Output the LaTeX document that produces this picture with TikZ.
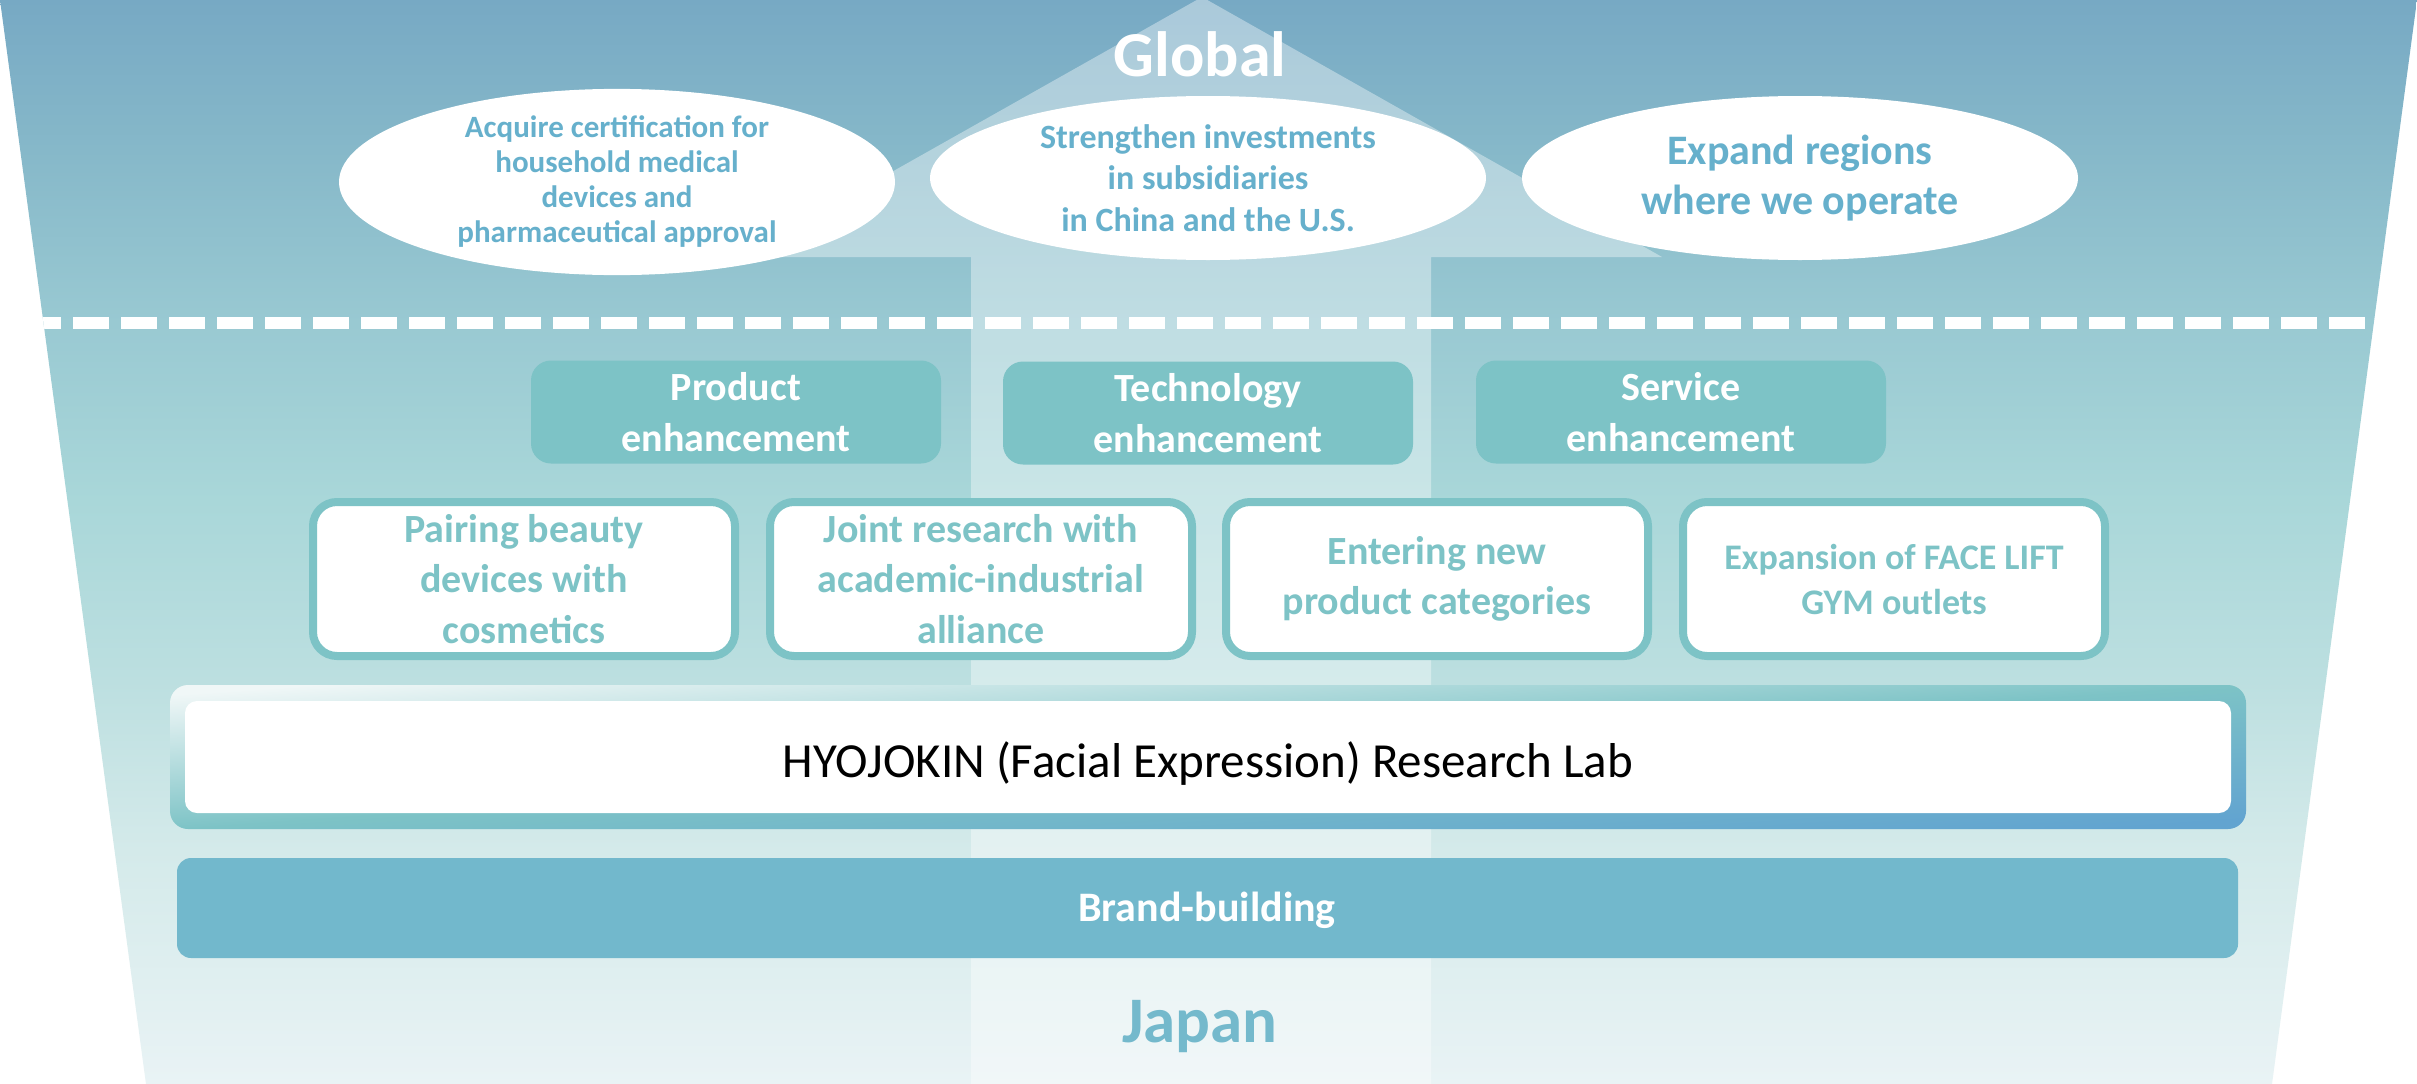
\documentclass[tikz,border=0pt]{standalone}
\usepackage{fontspec}
\setmainfont{Carlito}
\usetikzlibrary{shapes.geometric}
\definecolor{bga}{HTML}{77A9C4}
\definecolor{bgb}{HTML}{86B8C9}
\definecolor{bgc}{HTML}{99C9D2}
\definecolor{bgd}{HTML}{A9D7D9}
\definecolor{bge}{HTML}{BCDFE0}
\definecolor{bgf}{HTML}{D4EAEA}
\definecolor{bgg}{HTML}{E9F3F5}
\definecolor{tealbox}{HTML}{7DC3C6}
\definecolor{elltext}{HTML}{66B0CC}
\definecolor{brandfill}{HTML}{72B8CC}
\definecolor{japantext}{HTML}{74B9CC}
\definecolor{hyowhite}{HTML}{F0F7F7}
\definecolor{hyoblue}{HTML}{62A4D0}
\pgfdeclareverticalshading{bgshade}{100bp}{color(0bp)=(bgg); color(25bp)=(bgg); color(35.8bp)=(bgf); color(43.6bp)=(bge); color(51.9bp)=(bgd); color(60.1bp)=(bgc); color(68.1bp)=(bgb); color(75bp)=(bga); color(100bp)=(bga)}
\pgfdeclarehorizontalshading{hyoborder}{100bp}{color(0bp)=(hyowhite); color(25bp)=(hyowhite); color(50bp)=(tealbox); color(75bp)=(hyoblue); color(100bp)=(hyoblue)}
\tikzset{
  ellnode/.style={ellipse, fill=white, inner sep=0pt, minimum width=556pt, minimum height=164pt, text=elltext, align=center},
  enhbox/.style={rectangle, rounded corners=20pt, fill=tealbox, minimum width=410pt, minimum height=103pt, text=white, align=center, inner sep=0pt, font=\fontsize{40}{51}\selectfont\bfseries},
  initbox/.style={rectangle, rounded corners=24pt, draw=tealbox, line width=8pt, fill=white, minimum width=422pt, minimum height=154pt, text=tealbox, align=center, inner sep=0pt},
  bigword/.style={font=\fontsize{64}{70}\selectfont\bfseries, inner sep=0pt, anchor=base}
}
\begin{document}
\begin{tikzpicture}[x=1pt,y=-1pt]
\useasboundingbox (0,0) rectangle (2417,1084);
\fill[white] (0,0) rectangle (2417,1084);
% background trapezoid
\shade[shading=bgshade] (0,0) -- (2417,0) -- (2272,1084) -- (146,1084) -- cycle;
\begin{scope}
  \clip (0,0) -- (2417,0) -- (2272,1084) -- (146,1084) -- cycle;
  % big arrow
  \fill[white, opacity=0.38] (1202,-3) -- (1662,257) -- (1431,257) -- (1431,1084) -- (971,1084) -- (971,257) -- (741,257) -- cycle;
  % dashed divider
  \coordinate (dl) at (25,323);
  \coordinate (dr) at (2417,323);
  \draw[white, line width=12pt, dash pattern=on 36pt off 12pt] (dl) -- (dr);
\end{scope}
% Global
\node[bigword, text=white] (global) at (1200,76) {Global};
% ellipses
\node[ellnode, font=\fontsize{31}{35}\selectfont\bfseries] (e1) at (617,182) {Acquire certification for\\household medical\\devices and\\pharmaceutical approval};
\node[ellnode, font=\fontsize{34}{41.5}\selectfont\bfseries] (e2) at (1208,178) {Strengthen investments\\in subsidiaries\\in China and the U.S.};
\node[ellnode, font=\fontsize{42}{50}\selectfont\bfseries] (e3) at (1800,178) {Expand regions\\where we operate};
% enhancement boxes
\node[enhbox] (pe) at (736,412) {Product\\enhancement};
\node[enhbox] (te) at (1208,413) {Technology\\enhancement};
\node[enhbox] (se) at (1681,412) {Service\\enhancement};
% initiative boxes
\node[initbox, font=\fontsize{40}{50.5}\selectfont\bfseries] (i1) at (524,579) {Pairing beauty\\devices with\\cosmetics};
\node[initbox, font=\fontsize{40}{50.5}\selectfont\bfseries] (i2) at (981,579) {Joint research with\\academic-industrial\\alliance};
\node[initbox, font=\fontsize{40}{50.5}\selectfont\bfseries] (i3) at (1437,579) {Entering new\\product categories};
\node[initbox, font=\fontsize{36}{45}\selectfont\bfseries] (i4) at (1894,579) {Expansion of FACE LIFT\\GYM outlets};
% research lab
\shade[shading=hyoborder, shading angle=-86, rounded corners=18pt] (170,685) rectangle (2246,829);
\fill[white, rounded corners=12pt] (185,701) rectangle (2231,813);
\node[font=\fontsize{49}{55}\selectfont, text=black, inner sep=0pt] (lab) at (1208,764) {HYOJOKIN (Facial Expression) Research Lab};
% brand-building
\fill[brandfill, rounded corners=14pt] (177,858) rectangle (2238,958);
\node[font=\fontsize{42}{48}\selectfont\bfseries, text=white, inner sep=0pt] (brand) at (1207,910) {Brand-building};
% Japan
\node[bigword, font=\fontsize{65}{70}\selectfont\bfseries, text=japantext] (japan) at (1200,1042) {Japan};
\end{tikzpicture}
\end{document}
